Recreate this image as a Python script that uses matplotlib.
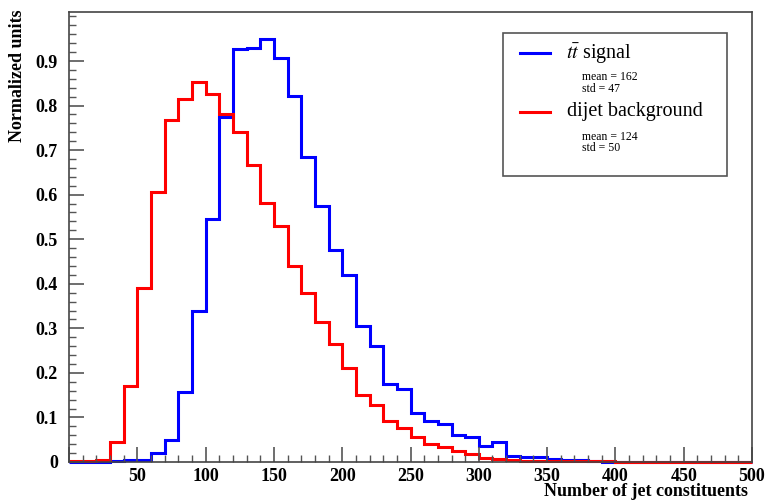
import numpy as np
import matplotlib
matplotlib.use("Agg")
import matplotlib.pyplot as plt
from matplotlib.patches import Rectangle
from matplotlib.lines import Line2D
from matplotlib.ticker import MultipleLocator

plt.rcParams["font.family"] = ["Liberation Serif", "DejaVu Serif"]
plt.rcParams["mathtext.fontset"] = "stix"

# bin edges: 50 bins of width 10 from 0 to 500
edges = np.arange(0, 510, 10)

signal = [0, 0, 0.001, 0.002, 0.004, 0.005, 0.021, 0.05, 0.158, 0.34,
          0.546, 0.774, 0.928, 0.93, 0.95, 0.906, 0.821, 0.685, 0.575, 0.476,
          0.42, 0.306, 0.261, 0.176, 0.164, 0.11, 0.092, 0.086, 0.06, 0.055,
          0.036, 0.044, 0.014, 0.011, 0.011, 0.006, 0.005, 0.005, 0.002, 0.001,
          0.001, 0.001, 0, 0, 0, 0, 0, 0, 0, 0]

background = [0.002, 0.002, 0.004, 0.044, 0.171, 0.39, 0.605, 0.767, 0.814, 0.854,
              0.827, 0.78, 0.74, 0.667, 0.581, 0.53, 0.441, 0.38, 0.315, 0.265,
              0.21, 0.151, 0.129, 0.093, 0.076, 0.056, 0.04, 0.034, 0.024, 0.018,
              0.01, 0.006, 0.004, 0.003, 0.003, 0.003, 0.002, 0.002, 0.002, 0.002,
              0.001, 0.001, 0.001, 0.001, 0.001, 0.001, 0.001, 0.001, 0.001, 0.001]

sig_label = r"$t\bar{t}$ signal"
bkg_label = "dijet background"
sig_stats = ["mean = 162", "std = 47"]
bkg_stats = ["mean = 124", "std = 50"]

fig = plt.figure(figsize=(7.67, 5.0), dpi=100)
ax = fig.add_axes([0.09, 0.076, 0.8905, 0.9])

ax.stairs(signal, edges, color="#0000ff", lw=2.2, baseline=None, clip_on=False)
ax.stairs(background, edges, color="#ff0000", lw=2.2, baseline=None, clip_on=False)

ax.set_xlim(0, 500)
ax.set_ylim(0, 1.01)

ax.xaxis.set_major_locator(MultipleLocator(50))
ax.xaxis.set_minor_locator(MultipleLocator(10))
ax.yaxis.set_major_locator(MultipleLocator(0.1))
ax.yaxis.set_minor_locator(MultipleLocator(0.02))
ax.tick_params(which="both", direction="in", top=False, right=False, color="#555555")
ax.tick_params(which="major", length=11, width=1.2)
ax.tick_params(which="minor", length=5, width=1.0)
ax.tick_params(axis="x", pad=4, labelsize=13)
ax.tick_params(axis="y", pad=8, labelsize=13)

ax.set_xticks(np.arange(0, 550, 50))
ax.set_xticklabels([""] + [str(v) for v in range(50, 550, 50)], fontweight="bold")
ax.set_yticks(np.arange(0, 1.0, 0.1))
ax.set_yticklabels(["0"] + ["%.1f" % v for v in np.arange(0.1, 1.0, 0.1)], fontweight="bold")

for s in ax.spines.values():
    s.set_color("#444444")
    s.set_linewidth(1.2)

ax.text(-0.076, 1.005, "Normalized units", rotation=90, ha="center", va="top",
        transform=ax.transAxes, fontsize=13, fontweight="bold")
ax.text(0.994, -0.066, "Number of jet constituents", ha="right", va="center",
        transform=ax.transAxes, fontsize=13, fontweight="bold")

# legend box
ax.add_patch(Rectangle((0.635, 0.636), 0.328, 0.317, transform=ax.transAxes,
                       facecolor="white", edgecolor="#555555", lw=1.2, zorder=5))
ax.add_line(Line2D([0.66, 0.704], [0.908, 0.908], transform=ax.transAxes,
                   color="#0000ff", lw=2.2, zorder=6))
ax.add_line(Line2D([0.66, 0.704], [0.778, 0.778], transform=ax.transAxes,
                   color="#ff0000", lw=2.2, zorder=6))
ax.text(0.728, 0.908, sig_label, transform=ax.transAxes, fontsize=14.5,
        va="center", zorder=6)
ax.text(0.729, 0.778, bkg_label, transform=ax.transAxes, fontsize=14.5,
        va="center", zorder=6)
ax.text(0.751, 0.856, sig_stats[0], transform=ax.transAxes, fontsize=8.5, va="center", zorder=6)
ax.text(0.751, 0.830, sig_stats[1], transform=ax.transAxes, fontsize=8.5, va="center", zorder=6)
ax.text(0.751, 0.723, bkg_stats[0], transform=ax.transAxes, fontsize=8.5, va="center", zorder=6)
ax.text(0.751, 0.697, bkg_stats[1], transform=ax.transAxes, fontsize=8.5, va="center", zorder=6)

fig.savefig("out.png", dpi=100)
